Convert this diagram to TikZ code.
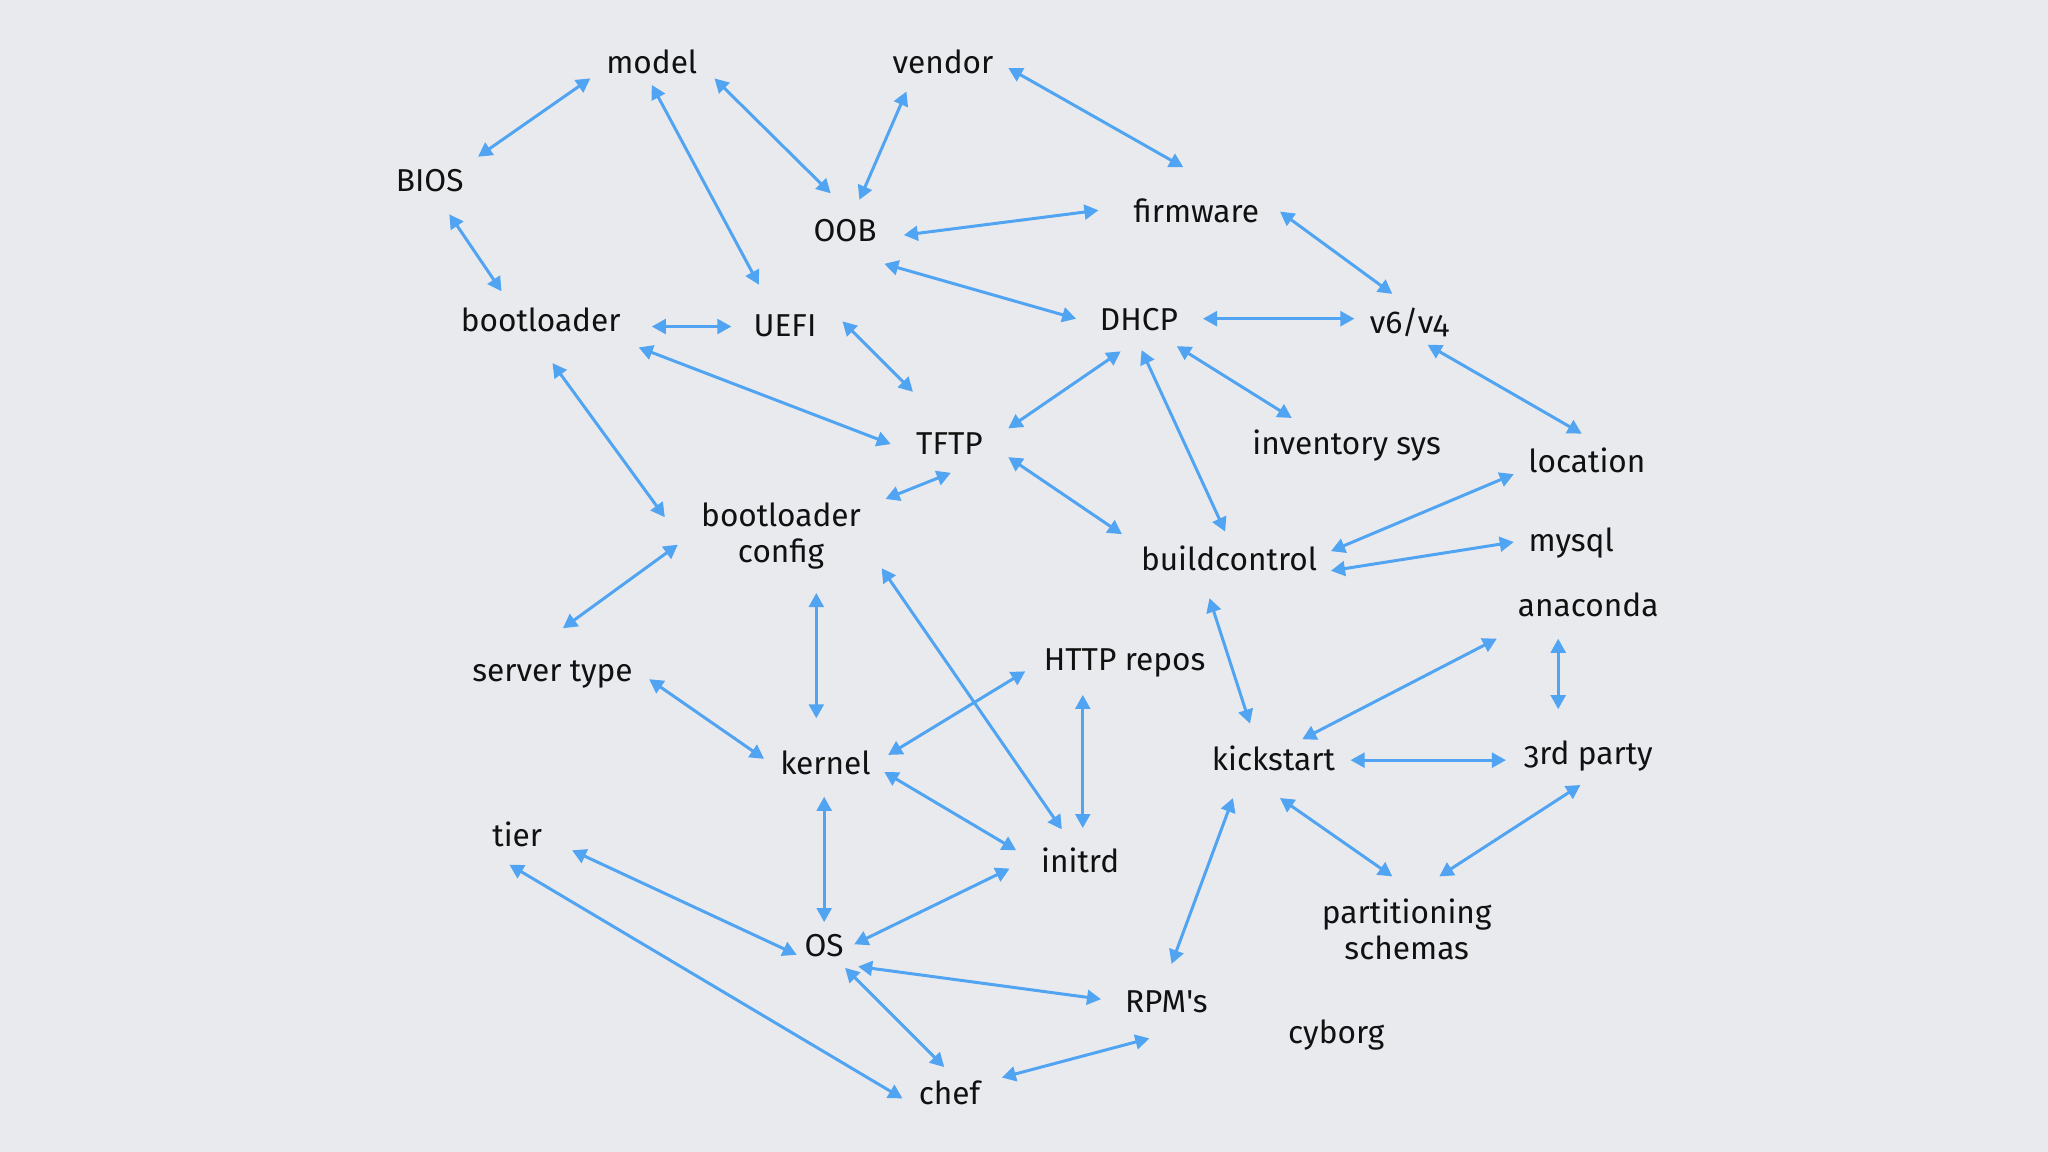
\documentclass[tikz,border=0pt]{standalone}
\usepackage{fontspec}
\setmainfont{Fira Sans}[Numbers=OldStyle,Ligatures=TeXOff]
\usetikzlibrary{arrows.meta,calc}
\definecolor{bg}{HTML}{E9EAEE}
\definecolor{arrc}{HTML}{50A4F2}
\definecolor{txt}{HTML}{111111}
\begin{document}
\begin{tikzpicture}[x=0.0130612cm,y=-0.0130612cm,
  lbl/.style={anchor=base,inner sep=0pt,text=txt,font=\fontsize{9}{10.4}\selectfont,align=center},
  arr/.style={draw=arrc,line width=0.85pt,{Triangle[length=4pt,width=4.2pt]}-{Triangle[length=4pt,width=4.2pt]}}]
\fill[bg] (0,0) rectangle (1568,882);
\useasboundingbox (0,0) rectangle (1568,882);
% nodes
\node[lbl] (model) at (499,56) {model};
\node[lbl] (vendor) at (722,56) {vendor};
\node[lbl] (BIOS) at (329,147) {BIOS};
\node[lbl] (OOB) at (647,185) {OOB};
\node[lbl] (firmware) at (916,170) {firmware};
\node[lbl] (bootloader) at (414,254) {bootloader};
\node[lbl] (UEFI) at (601,258) {UEFI};
\node[lbl] (DHCP) at (872,253) {DHCP};
\node[lbl] (v6v4) at (1079,255) {v6/v4};
\node[lbl] (TFTP) at (727,348) {TFTP};
\node[lbl] (inventory) at (1031,348) {inventory sys};
\node[lbl] (location) at (1215,362) {location};
\node[lbl] (bconfig) at (598,431) {bootloader\\config};
\node[lbl] (buildcontrol) at (941,437) {buildcontrol};
\node[lbl] (mysql) at (1203,422) {mysql};
\node[lbl] (anaconda) at (1216,472) {anaconda};
\node[lbl] (servertype) at (423,522) {server type};
\node[lbl] (HTTP) at (861,513) {HTTP repos};
\node[lbl] (kernel) at (632,593) {kernel};
\node[lbl] (kickstart) at (975,590) {kickstart};
\node[lbl] (third) at (1216,585) {3rd party};
\node[lbl] (tier) at (396,648) {tier};
\node[lbl] (initrd) at (827,668) {initrd};
\node[lbl] (partitioning) at (1077,735) {partitioning\\schemas};
\node[lbl] (OS) at (631,732) {OS};
\node[lbl] (RPMs) at (893,775) {RPM's};
\node[lbl] (cyborg) at (1023,799) {cyborg};
\node[lbl] (chef) at (727,846) {chef};
% connectors
\draw[arr] ($(BIOS.base)+(37,-27)$) -- ($(model.base)+(-47,4)$);
\draw[arr] ($(model.base)+(0,9)$) -- ($(UEFI.base)+(-20,-40)$);
\draw[arr] ($(model.base)+(48,4)$) -- ($(OOB.base)+(-11,-37)$);
\draw[arr] ($(OOB.base)+(11,-32)$) -- ($(vendor.base)+(-28,14)$);
\draw[arr] ($(vendor.base)+(50,-4)$) -- ($(firmware.base)+(-10,-42)$);
\draw[arr] ($(OOB.base)+(45,-5)$) -- ($(firmware.base)+(-75,-9)$);
\draw[arr] ($(OOB.base)+(30,17)$) -- ($(DHCP.base)+(-48,-9)$);
\draw[arr] ($(firmware.base)+(64,-8)$) -- ($(v6v4.base)+(-13,-30)$);
\draw[arr] ($(BIOS.base)+(15,17)$) -- ($(bootloader.base)+(-30,-31)$);
\draw[arr] ($(bootloader.base)+(85,-4)$) -- ($(UEFI.base)+(-41,-8)$);
\draw[arr] ($(UEFI.base)+(44,-12)$) -- ($(TFTP.base)+(-28,-48)$);
\draw[arr] ($(DHCP.base)+(49,-9)$) -- ($(v6v4.base)+(-42,-11)$);
\draw[arr] ($(bootloader.base)+(75,12)$) -- ($(TFTP.base)+(-45,-8)$);
\draw[arr] ($(DHCP.base)+(-14,16)$) -- ($(TFTP.base)+(45,-20)$);
\draw[arr] ($(DHCP.base)+(29,12)$) -- ($(inventory.base)+(-42,-28)$);
\draw[arr] ($(v6v4.base)+(14,9)$) -- ($(location.base)+(-4,-30)$);
\draw[arr] ($(DHCP.base)+(2,15)$) -- ($(buildcontrol.base)+(-3,-30)$);
\draw[arr] ($(TFTP.base)+(1,14)$) -- ($(bconfig.base)+(80,-49)$);
\draw[arr] ($(TFTP.base)+(45,2)$) -- ($(buildcontrol.base)+(-82,-28)$);
\draw[arr] ($(bootloader.base)+(9,24)$) -- ($(bconfig.base)+(-89,-35)$);
\draw[arr] ($(buildcontrol.base)+(78,-15)$) -- ($(location.base)+(-56,1)$);
\draw[arr] ($(buildcontrol.base)+(78,0)$) -- ($(mysql.base)+(-44,-7)$);
\draw[arr] ($(bconfig.base)+(-79,-14)$) -- ($(servertype.base)+(8,-41)$);
\draw[arr] ($(bconfig.base)+(27,23)$) -- ($(kernel.base)+(-7,-43)$);
\draw[arr] ($(bconfig.base)+(77,4)$) -- ($(initrd.base)+(-14,-33)$);
\draw[arr] ($(servertype.base)+(74,-2)$) -- ($(kernel.base)+(-47,-12)$);
\draw[arr] ($(kernel.base)+(48,-15)$) -- ($(HTTP.base)+(-76,1)$);
\draw[arr] ($(HTTP.base)+(-32,19)$) -- ($(initrd.base)+(2,-34)$);
\draw[arr] ($(kernel.base)+(45,-2)$) -- ($(initrd.base)+(-49,-17)$);
\draw[arr] ($(buildcontrol.base)+(-15,21)$) -- ($(kickstart.base)+(-18,-36)$);
\draw[arr] ($(kickstart.base)+(22,-24)$) -- ($(anaconda.base)+(-70,17)$);
\draw[arr] ($(anaconda.base)+(-23,17)$) -- ($(third.base)+(-23,-42)$);
\draw[arr] ($(kickstart.base)+(59,-8)$) -- ($(third.base)+(-63,-3)$);
\draw[arr] ($(kickstart.base)+(5,21)$) -- ($(partitioning.base)+(-11,-64)$);
\draw[arr] ($(third.base)+(-6,16)$) -- ($(partitioning.base)+(25,-64)$);
\draw[arr] ($(kickstart.base)+(-31,21)$) -- ($(RPMs.base)+(4,-37)$);
\draw[arr] ($(kernel.base)+(-1,17)$) -- ($(OS.base)+(0,-26)$);
\draw[arr] ($(initrd.base)+(-54,-3)$) -- ($(OS.base)+(23,-9)$);
\draw[arr] ($(tier.base)+(42,3)$) -- ($(OS.base)+(-21,-1)$);
\draw[arr] ($(tier.base)+(-6,14)$) -- ($(chef.base)+(-36,-5)$);
\draw[arr] ($(OS.base)+(26,8)$) -- ($(RPMs.base)+(-50,-10)$);
\draw[arr] ($(OS.base)+(16,9)$) -- ($(chef.base)+(-4,-29)$);
\draw[arr] ($(chef.base)+(40,-21)$) -- ($(RPMs.base)+(-13,20)$);
\end{tikzpicture}
\end{document}
